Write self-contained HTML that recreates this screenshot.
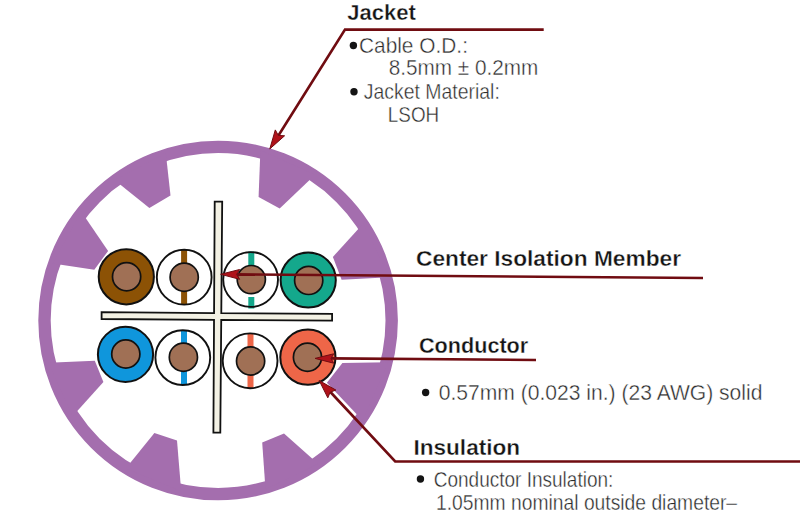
<!DOCTYPE html>
<html><head><meta charset="utf-8"><style>
html,body{margin:0;padding:0;background:#fff;}
svg{display:block;font-family:"Liberation Sans", sans-serif;}
</style></head><body>
<svg width="800" height="522" viewBox="0 0 800 522">
<circle cx="218.1" cy="320.5" r="173.60" fill="none" stroke="#A46EAE" stroke-width="12.40"/>
<polygon points="260.4,150.2 258.6,197.1 279.7,208.4 315.1,174.7" fill="#A46EAE"/>
<polygon points="165.8,153.1 170.5,195.6 149.4,208.0 114.5,180.0" fill="#A46EAE"/>
<polygon points="81.2,211.5 108.1,250.9 94.3,269.8 52.8,263.5" fill="#A46EAE"/>
<polygon points="48.4,362.8 94.8,360.7 103.4,381.9 72.6,416.3" fill="#A46EAE"/>
<polygon points="125.7,468.5 154.4,433.0 177.0,440.6 181.2,491.3" fill="#A46EAE"/>
<polygon points="265.5,489.4 262.2,442.5 284.0,433.5 318.0,463.7" fill="#A46EAE"/>
<polygon points="388.3,362.3 342.4,362.9 326.9,382.8 362.6,420.5" fill="#A46EAE"/>
<polygon points="363.3,223.4 332.9,256.9 341.6,279.7 389.2,277.2" fill="#A46EAE"/>
<polygon points="214.70,201.60 222.20,201.60 221.28,313.08 332.10,313.90 332.10,320.70 221.23,319.88 220.30,432.70 213.40,432.70 214.03,319.83 101.60,319.00 101.60,312.20 214.07,313.03" fill="#F3F1E4" stroke="#111" stroke-width="1.8"/>
<circle cx="126.3" cy="276.8" r="27.6" fill="#8C5205" stroke="#111" stroke-width="2"/>
<circle cx="126.6" cy="276.7" r="14.1" fill="#A07055" stroke="#111" stroke-width="1.7"/>
<circle cx="184.2" cy="277.2" r="27.5" fill="#fff"/>
<rect x="181.1" y="249.7" width="6.0" height="55" fill="#8C5205"/>
<circle cx="184.2" cy="277.2" r="27.4" fill="none" stroke="#111" stroke-width="1.9"/>
<circle cx="184.2" cy="277.2" r="14.1" fill="#A07055" stroke="#111" stroke-width="1.7"/>
<circle cx="250.6" cy="279.5" r="27.5" fill="#fff"/>
<rect x="248.3" y="251.5" width="6" height="14.5" fill="#14A88C"/>
<rect x="248.3" y="297" width="6" height="11.5" fill="#14A88C"/>
<circle cx="250.6" cy="279.5" r="27.4" fill="none" stroke="#111" stroke-width="1.9"/>
<circle cx="251.3" cy="279.6" r="14.1" fill="#A07055" stroke="#111" stroke-width="1.7"/>
<circle cx="308.2" cy="280.0" r="27.6" fill="#14A88C" stroke="#111" stroke-width="2"/>
<circle cx="308.7" cy="280.4" r="14.1" fill="#A07055" stroke="#111" stroke-width="1.7"/>
<circle cx="125.5" cy="354.4" r="27.6" fill="#0F96DC" stroke="#111" stroke-width="2"/>
<circle cx="125.8" cy="354.0" r="14.1" fill="#A07055" stroke="#111" stroke-width="1.7"/>
<circle cx="182.8" cy="357.6" r="27.5" fill="#fff"/>
<rect x="181.0" y="330.1" width="6.0" height="55" fill="#0F96DC"/>
<circle cx="182.8" cy="357.6" r="27.4" fill="none" stroke="#111" stroke-width="1.9"/>
<circle cx="183.4" cy="357.2" r="14.1" fill="#A07055" stroke="#111" stroke-width="1.7"/>
<circle cx="250.1" cy="360.8" r="27.5" fill="#fff"/>
<rect x="247.5" y="333.3" width="6.0" height="55" fill="#EE6648"/>
<circle cx="250.1" cy="360.8" r="27.4" fill="none" stroke="#111" stroke-width="1.9"/>
<circle cx="250.6" cy="361.0" r="14.1" fill="#A07055" stroke="#111" stroke-width="1.7"/>
<circle cx="307.9" cy="357.2" r="27.6" fill="#EE6648" stroke="#111" stroke-width="2"/>
<circle cx="307.5" cy="357.2" r="14.1" fill="#A07055" stroke="#111" stroke-width="1.7"/>
<polyline points="543.7,29.6 345,29.6 275,141" fill="none" stroke="#700C11" stroke-width="2.6" stroke-linejoin="miter"/>
<polygon points="269.8,148.9 275.3,129.9 278.3,135.4 284.6,135.8" fill="#B0121A" stroke="#700C11" stroke-width="1" stroke-linejoin="miter"/>
<line x1="703" y1="278" x2="235" y2="274.4" stroke="#700C11" stroke-width="2.6"/>
<polygon points="220.6,274.3 239.6,269.5 236.6,274.4 239.6,279.3" fill="#B0121A" stroke="#700C11" stroke-width="1" stroke-linejoin="miter"/>
<line x1="536" y1="360" x2="330" y2="358.4" stroke="#700C11" stroke-width="2.6"/>
<polygon points="315.0,358.4 333.7,353.8 331.0,358.5 333.7,363.2" fill="#B0121A" stroke="#700C11" stroke-width="1" stroke-linejoin="miter"/>
<polyline points="800,461.5 395.2,461.5 329,390.5" fill="none" stroke="#700C11" stroke-width="2.6"/>
<polygon points="319.2,380.5 335.9,390.1 330.2,392.2 327.8,397.8" fill="#B0121A" stroke="#700C11" stroke-width="1" stroke-linejoin="miter"/>
<text x="347.20" y="20.30" font-size="22" font-weight="bold" fill="#141414" stroke="#fff" stroke-width="0.35" textLength="68.63" lengthAdjust="spacingAndGlyphs">Jacket</text>
<text x="358.97" y="52.60" font-size="21.2" font-weight="normal" fill="#2a2a2a" stroke="#fff" stroke-width="0.4" textLength="108.96" lengthAdjust="spacingAndGlyphs">Cable O.D.:</text>
<text x="388.67" y="74.70" font-size="21.2" font-weight="normal" fill="#2a2a2a" stroke="#fff" stroke-width="0.4" textLength="149.56" lengthAdjust="spacingAndGlyphs">8.5mm ± 0.2mm</text>
<text x="363.78" y="99.30" font-size="21.2" font-weight="normal" fill="#2a2a2a" stroke="#fff" stroke-width="0.4" textLength="136.07" lengthAdjust="spacingAndGlyphs">Jacket Material:</text>
<text x="387.86" y="121.90" font-size="21.2" font-weight="normal" fill="#2a2a2a" stroke="#fff" stroke-width="0.4" textLength="51.30" lengthAdjust="spacingAndGlyphs">LSOH</text>
<text x="415.99" y="265.70" font-size="21.8" font-weight="bold" fill="#141414" stroke="#fff" stroke-width="0.35" textLength="265.02" lengthAdjust="spacingAndGlyphs">Center Isolation Member</text>
<text x="418.99" y="353.20" font-size="22" font-weight="bold" fill="#141414" stroke="#fff" stroke-width="0.35" textLength="109.23" lengthAdjust="spacingAndGlyphs">Conductor</text>
<text x="438.77" y="400.00" font-size="22.5" font-weight="normal" fill="#2a2a2a" stroke="#fff" stroke-width="0.4" textLength="323.65" lengthAdjust="spacingAndGlyphs">0.57mm (0.023 in.) (23 AWG) solid</text>
<text x="413.44" y="455.10" font-size="21.8" font-weight="bold" fill="#141414" stroke="#fff" stroke-width="0.35" textLength="106.64" lengthAdjust="spacingAndGlyphs">Insulation</text>
<text x="433.68" y="486.90" font-size="22.2" font-weight="normal" fill="#2a2a2a" stroke="#fff" stroke-width="0.4" textLength="179.70" lengthAdjust="spacingAndGlyphs">Conductor Insulation:</text>
<text x="436.06" y="509.80" font-size="22.5" font-weight="normal" fill="#2a2a2a" stroke="#fff" stroke-width="0.4" textLength="301.05" lengthAdjust="spacingAndGlyphs">1.05mm nominal outside diameter–</text>
<circle cx="353.4" cy="45.5" r="3.7" fill="#141414"/>
<circle cx="354" cy="91.8" r="3.7" fill="#141414"/>
<circle cx="425.65" cy="392.45" r="3.7" fill="#141414"/>
<circle cx="420.45" cy="479" r="3.7" fill="#141414"/>
</svg>
</body></html>
